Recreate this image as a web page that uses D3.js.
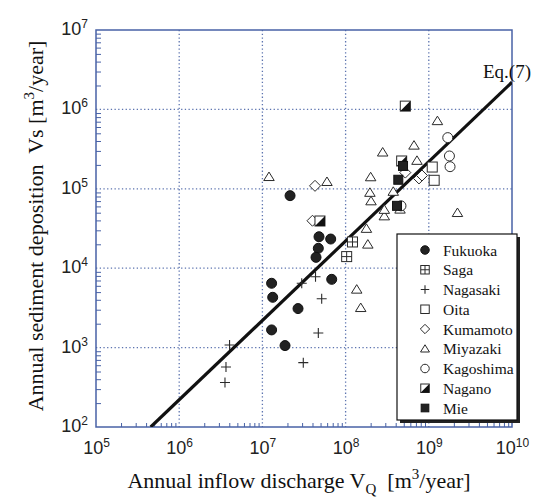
<!DOCTYPE html>
<html><head><meta charset="utf-8">
<script src="https://cdn.jsdelivr.net/npm/d3@7"></script>
<style>body{margin:0;background:#fff}</style>
</head><body>
<svg id="c" width="534" height="497"></svg>
<script>
// ---- data (Vo [m3/year], Vs [m3/year]) ----
const fukuokaX = [2.15e7, 4.79e7, 6.62e7, 4.70e7, 4.41e7, 1.29e7, 1.33e7, 2.68e7, 1.29e7, 1.87e7, 6.81e7];
const fukuokaY = [8.2e4, 2.49e4, 2.33e4, 1.78e4, 1.37e4, 6.46e3, 4.30e3, 3.10e3, 1.67e3, 1.06e3, 7.24e3];
const sagaX = [1.21e8, 1.03e8];
const sagaY = [2.14e4, 1.40e4];
const nagasakiX = [4.03e6, 3.65e6, 3.55e6, 3.10e7, 2.97e7, 4.35e7, 5.16e7, 4.70e7];
const nagasakiY = [1.08e3, 570, 363, 646, 6.46e3, 7.81e3, 4.13e3, 1.53e3];
const oitaX = [1.10e9, 1.16e9];
const oitaY = [1.88e5, 1.28e5];
const kumamotoX = [4.29e7, 4.00e7, 5.22e8, 7.62e8, 8.28e8];
const kumamotoY = [1.09e5, 3.96e4, 1.60e5, 1.35e5, 1.47e5];
const miyazakiX = [1.20e7, 5.97e7, 1.36e8, 1.52e8, 1.85e8, 1.78e8, 2.92e8, 2.92e8, 4.51e8, 2.02e8, 1.96e8, 3.74e8, 2.00e8, 2.79e8, 6.64e8, 7.21e8, 1.27e9, 2.21e9];
const miyazakiY = [1.42e5, 1.23e5, 5.42e3, 3.18e3, 2.00e4, 3.16e4, 4.54e4, 5.48e4, 5.52e4, 7.02e4, 8.98e4, 9.25e4, 1.41e5, 2.89e5, 3.53e5, 2.27e5, 7.18e5, 5.00e4];
const kagoshimaX = [1.69e9, 1.77e9, 1.80e9, 4.63e8];
const kagoshimaY = [4.41e5, 2.59e5, 1.90e5, 6.10e4];
const naganoX = [4.92e7, 5.22e8, 4.72e8];
const naganoY = [3.93e4, 1.10e6, 2.24e5];
const mieX = [4.30e8, 4.15e8, 4.90e8];
const mieY = [1.30e5, 6.10e4, 1.94e5];

const seriesNames = ["Fukuoka","Saga","Nagasaki","Oita","Kumamoto","Miyazaki","Kagoshima","Nagano","Mie"];
const seriesKeys  = ["fukuoka","saga","nagasaki","oita","kumamoto","miyazaki","kagoshima","nagano","mie"];
const seriesX = [fukuokaX, sagaX, nagasakiX, oitaX, kumamotoX, miyazakiX, kagoshimaX, naganoX, mieX];
const seriesY = [fukuokaY, sagaY, nagasakiY, oitaY, kumamotoY, miyazakiY, kagoshimaY, naganoY, mieY];

// Eq.(7): Vs = coef * Vo^exp
const eqCoef = 2.2e-4;
const eqExp = 1.0;
const xTicks = [1e5, 1e6, 1e7, 1e8, 1e9, 1e10];
const yTicks = [1e2, 1e3, 1e4, 1e5, 1e6, 1e7];

// ---- layout ----
const L = 96, R = 512, T = 30, B = 427;
const svg = d3.select("#c");
const x = d3.scaleLog().domain([1e5, 1e10]).range([L, R]);
const y = d3.scaleLog().domain([1e2, 1e7]).range([B, T]);
const axisCol = "#4862a6";
const gridCol = "#5d74b0";

// grid
const grid = svg.append("g");
grid.selectAll("line.gx").data(xTicks.slice(1, -1)).join("line")
  .attr("x1", d => x(d)).attr("x2", d => x(d)).attr("y1", T).attr("y2", B)
  .attr("stroke", gridCol).attr("stroke-width", 1.3).attr("stroke-dasharray", "1.3,2.4");
grid.selectAll("line.gy").data(yTicks.slice(1, -1)).join("line")
  .attr("y1", d => y(d)).attr("y2", d => y(d)).attr("x1", L).attr("x2", R)
  .attr("stroke", gridCol).attr("stroke-width", 1.3).attr("stroke-dasharray", "1.3,2.4");

// minor ticks
const minor = [];
for (let e = 5; e < 10; e++) for (let m = 2; m <= 9; m++) minor.push(m * Math.pow(10, e));
const minorY = [];
for (let e = 2; e < 7; e++) for (let m = 2; m <= 9; m++) minorY.push(m * Math.pow(10, e));

function styleAxis(g) {
  g.select(".domain").remove();
  g.selectAll(".tick line").attr("stroke", axisCol).attr("stroke-width", 1);
}
svg.append("g").attr("transform", `translate(0,${B})`)
  .call(d3.axisBottom(x).tickValues(minor).tickSize(-4).tickFormat("")).call(styleAxis);
svg.append("g").attr("transform", `translate(${L},0)`)
  .call(d3.axisLeft(y).tickValues(minorY).tickSize(-5).tickFormat("")).call(styleAxis);

// major tick labels
const xa = svg.append("g").attr("transform", `translate(0,${B})`)
  .call(d3.axisBottom(x).tickValues(xTicks).tickSize(0).tickPadding(14).tickFormat(() => "10"));
xa.select(".domain").remove();
xa.selectAll(".tick text").attr("font-family", "Liberation Sans, Arial, sans-serif")
  .attr("font-size", 18).attr("fill", "#222")
  .each(function(d) {
    d3.select(this).append("tspan").attr("dy", -7).attr("font-size", 12).text(Math.round(Math.log10(d)));
  });
const ya = svg.append("g").attr("transform", `translate(${L},0)`)
  .call(d3.axisLeft(y).tickValues(yTicks).tickSize(0).tickPadding(8).tickFormat(() => "10"));
ya.select(".domain").remove();
ya.selectAll(".tick text").attr("font-family", "Liberation Sans, Arial, sans-serif")
  .attr("font-size", 18).attr("fill", "#222").attr("dy", "0.25em")
  .each(function(d) {
    d3.select(this).append("tspan").attr("dy", -7).attr("font-size", 12).text(Math.round(Math.log10(d)));
  });

// frame
svg.append("rect").attr("x", L).attr("y", T).attr("width", R - L).attr("height", B - T)
  .attr("fill", "none").attr("stroke", axisCol).attr("stroke-width", 1.5);

// clip
svg.append("clipPath").attr("id", "clip").append("rect")
  .attr("x", L).attr("y", T).attr("width", R - L).attr("height", B - T);

// Eq line
const xStart = Math.pow(1e2 / eqCoef, 1 / eqExp);
const eqPts = [xStart, 1e10].map(v => [v, eqCoef * Math.pow(v, eqExp)]);
svg.append("path").attr("clip-path", "url(#clip)")
  .attr("d", d3.line().x(d => x(d[0])).y(d => y(d[1]))(eqPts))
  .attr("stroke", "#111").attr("stroke-width", 3.2).attr("fill", "none");
svg.append("text").attr("x", 483).attr("y", 78)
  .attr("font-family", "Liberation Serif, Times New Roman, serif").attr("font-size", 19)
  .attr("fill", "#111").text("Eq.(7)");

// symbols
const stroke = "#2a2a2a";
function drawSymbol(g, key, cx, cy, s) {
  const h = s / 2;
  if (key === "fukuoka") {
    g.append("circle").attr("cx", cx).attr("cy", cy).attr("r", h).attr("fill", "#222").attr("stroke", "#111");
  } else if (key === "saga") {
    g.append("rect").attr("x", cx - h).attr("y", cy - h).attr("width", s).attr("height", s)
      .attr("fill", "#fff").attr("stroke", stroke);
    g.append("path").attr("d", `M${cx - h},${cy}H${cx + h}M${cx},${cy - h}V${cy + h}`).attr("stroke", stroke);
  } else if (key === "nagasaki") {
    g.append("path").attr("d", `M${cx - h},${cy}H${cx + h}M${cx},${cy - h}V${cy + h}`)
      .attr("stroke", stroke).attr("stroke-width", 1.1);
  } else if (key === "oita") {
    g.append("rect").attr("x", cx - h).attr("y", cy - h).attr("width", s).attr("height", s)
      .attr("fill", "#fff").attr("stroke", stroke);
  } else if (key === "kumamoto") {
    const r = h * 1.1;
    g.append("path").attr("d", `M${cx},${cy - r}L${cx + r},${cy}L${cx},${cy + r}L${cx - r},${cy}Z`)
      .attr("fill", "#fff").attr("stroke", stroke);
  } else if (key === "miyazaki") {
    const hh = s * 0.85;
    g.append("path").attr("d", `M${cx},${cy - hh * 0.55}L${cx + h * 1.05},${cy + hh * 0.45}L${cx - h * 1.05},${cy + hh * 0.45}Z`)
      .attr("fill", "#fff").attr("stroke", stroke);
  } else if (key === "kagoshima") {
    g.append("circle").attr("cx", cx).attr("cy", cy).attr("r", h).attr("fill", "#fff").attr("stroke", stroke);
  } else if (key === "nagano") {
    g.append("rect").attr("x", cx - h).attr("y", cy - h).attr("width", s).attr("height", s)
      .attr("fill", "#fff").attr("stroke", stroke);
    g.append("path").attr("d", `M${cx - h},${cy + h}L${cx + h},${cy - h}L${cx + h},${cy + h}Z`).attr("fill", "#111");
  } else if (key === "mie") {
    g.append("rect").attr("x", cx - h * 0.9).attr("y", cy - h * 0.9).attr("width", s * 0.9).attr("height", s * 0.9)
      .attr("fill", "#222").attr("stroke", "#111");
  }
}

const pts = svg.append("g");
seriesKeys.forEach((k, i) => {
  seriesX[i].forEach((vx, j) => {
    drawSymbol(pts, k, x(vx), y(seriesY[i][j]), 10);
  });
});

// legend
const lg = svg.append("g");
lg.append("rect").attr("x", 400).attr("y", 237).attr("width", 120).attr("height", 186).attr("fill", "#222");
lg.append("rect").attr("x", 397).attr("y", 234).attr("width", 120).attr("height", 186)
  .attr("fill", "#fff").attr("stroke", "#111").attr("stroke-width", 1.2);
seriesKeys.forEach((k, i) => {
  const cy = 250 + i * 19.75;
  drawSymbol(lg, k, 425, cy, 8.5);
  lg.append("text").attr("x", 443).attr("y", cy + 5.5)
    .attr("font-family", "Liberation Serif, Times New Roman, serif").attr("font-size", 15.5)
    .attr("fill", "#111").text(seriesNames[i]);
});

// axis titles
const xt = svg.append("text").attr("x", 299).attr("y", 488).attr("text-anchor", "middle")
  .attr("font-family", "Liberation Serif, Times New Roman, serif").attr("font-size", 22).attr("fill", "#111");
xt.append("tspan").text("Annual inflow discharge V");
xt.append("tspan").attr("font-size", 15).attr("dy", 6).text("Q");
xt.append("tspan").attr("dy", -6).text("\u00a0 [m");
xt.append("tspan").attr("font-size", 15).attr("dy", -9).text("3");
xt.append("tspan").attr("dy", 9).text("/year]");

const yt = svg.append("text").attr("transform", "translate(43,226) rotate(-90)").attr("text-anchor", "middle")
  .attr("font-family", "Liberation Serif, Times New Roman, serif").attr("font-size", 22).attr("fill", "#111");
yt.append("tspan").text("Annual sediment deposition\u00a0 Vs [m");
yt.append("tspan").attr("font-size", 15).attr("dy", -9).text("3");
yt.append("tspan").attr("dy", 9).text("/year]");
</script>
</body></html>
